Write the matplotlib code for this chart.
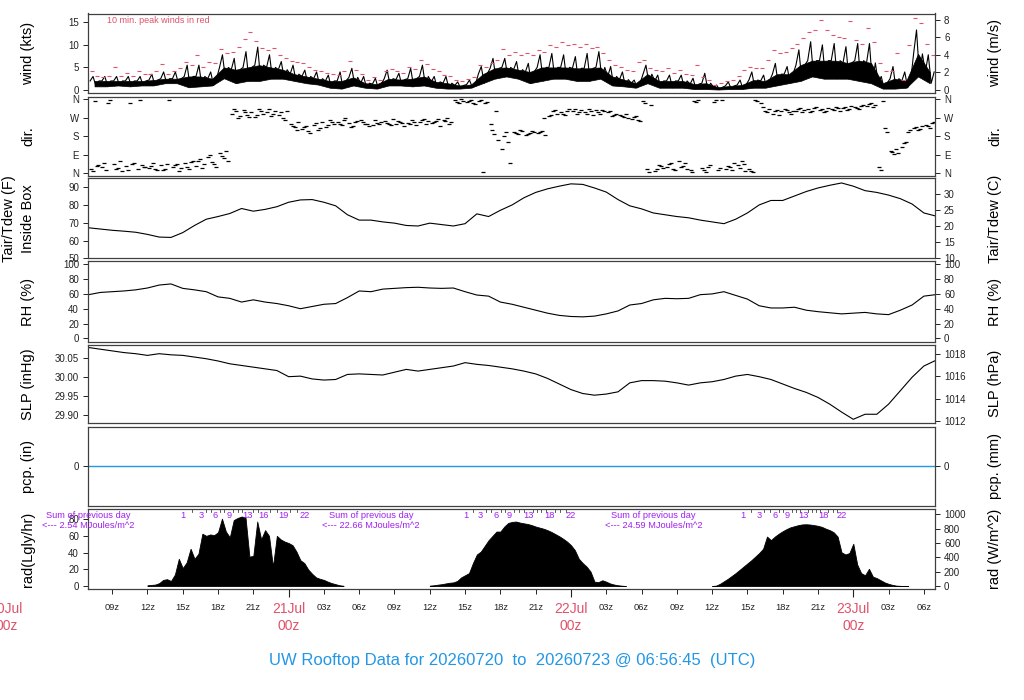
import numpy as np
import matplotlib
matplotlib.use('Agg')
import matplotlib.pyplot as plt
import matplotlib.transforms as mtransforms

plt.rcParams['font.family'] = ['Liberation Sans', 'DejaVu Sans']

# ---------------- data (hours since 2026-07-20 00z) ----------------
hours = list(range(7, 80))
temp_f = [67.2, 66.5, 65.8, 65.3, 64.7, 63.5, 62.0, 61.8, 64.5, 68.5,
          72.0, 73.5, 75.2, 78.0, 76.5, 77.5, 79.0, 81.5, 82.8, 83.0,
          81.5, 79.5, 74.5, 71.5, 71.5, 70.5, 69.8, 68.5, 68.2, 69.8,
          69.0, 68.2, 69.5, 75.0, 73.5, 77.0, 80.0, 84.0, 87.0, 89.0,
          90.5, 91.8, 91.5, 89.5, 87.2, 83.0, 79.5, 77.8, 75.5, 74.5,
          73.5, 72.8, 71.5, 70.5, 69.5, 72.0, 75.5, 80.0, 82.5, 82.5,
          85.0, 87.5, 89.5, 91.0, 92.3, 90.5, 88.0, 87.0, 85.5, 83.5,
          80.5, 75.5, 73.8]
rh_pct = [59, 62, 63, 64, 65.5, 68, 72, 73.5, 67.5, 65.5,
          63, 56, 54, 49, 52, 49, 47, 44, 40, 43,
          46, 47, 55, 64, 63, 66.5, 67.5, 68.5, 69, 68,
          67.5, 68, 63, 58.5, 57, 49, 46, 42, 38, 34,
          31, 29.5, 29, 30, 33, 37, 45, 47, 52, 54,
          53.5, 54, 59, 60, 63, 58, 53, 44, 41, 41,
          42, 38, 36, 34.5, 33, 34, 35, 33, 32, 38,
          45, 57, 59]
slp_hpa = [1018.55, 1018.4, 1018.25, 1018.1, 1018.0, 1017.85, 1018.0, 1017.9, 1017.85, 1017.7,
           1017.55, 1017.35, 1017.1, 1016.95, 1016.8, 1016.65, 1016.5, 1015.95, 1016.0, 1015.75,
           1015.65, 1015.7, 1016.15, 1016.2, 1016.15, 1016.1, 1016.35, 1016.6, 1016.45, 1016.6,
           1016.75, 1016.9, 1017.2, 1017.05, 1016.95, 1016.8, 1016.65, 1016.45, 1016.2, 1015.8,
           1015.3, 1014.8, 1014.45, 1014.3, 1014.4, 1014.6, 1015.4, 1015.6, 1015.6, 1015.55,
           1015.4, 1015.2, 1015.4, 1015.5, 1015.7, 1016.0, 1016.15, 1015.95, 1015.7, 1015.3,
           1014.9, 1014.55, 1014.1, 1013.5, 1012.8, 1012.15, 1012.6, 1012.6, 1013.5, 1014.7,
           1015.9, 1016.9, 1017.4]

wind_hours = list(range(7, 79))
wind_hi_kts = [3.0, 3.0, 3.0, 3.0, 3.0, 3.5, 4.0, 4.0, 5.5, 5.5,
               4.0, 7.8, 7.0, 8.5, 9.5, 7.8, 6.3, 5.5, 4.4, 4.0,
               3.3, 4.0, 4.8, 3.0, 2.6, 4.4, 3.7, 4.8, 5.5, 3.0,
               3.0, 1.8, 2.2, 5.2, 7.0, 7.0, 6.3, 5.9, 7.8, 8.1,
               7.8, 7.4, 8.1, 8.5, 5.2, 4.0, 2.2, 5.5, 3.3, 3.3,
               3.3, 2.6, 3.7, 1.1, 1.8, 2.2, 4.0, 3.3, 5.9, 5.2,
               8.9, 10.7, 10.0, 10.3, 9.6, 10.3, 10.3, 3.0, 5.2, 4.0,
               13.3, 7.8]
wind_mean_kts = [2.0, 2.0, 2.0, 2.0, 2.0, 2.2, 2.5, 2.5, 3.0, 3.0,
                 2.5, 5.0, 4.5, 5.0, 5.5, 5.0, 4.5, 3.5, 3.0, 2.5,
                 2.0, 2.0, 2.8, 1.5, 1.3, 2.5, 2.3, 2.5, 3.0, 1.8,
                 1.5, 1.0, 1.2, 3.5, 4.8, 5.0, 4.5, 4.0, 5.0, 5.0,
                 5.0, 4.8, 4.8, 5.0, 3.0, 2.3, 1.5, 3.5, 2.0, 2.0,
                 2.0, 1.3, 1.5, 0.6, 0.9, 1.1, 2.2, 2.0, 3.5, 3.5,
                 5.5, 6.5, 6.5, 6.5, 6.0, 6.5, 6.0, 1.5, 2.5, 2.0,
                 8.0, 4.0]
wind_lo_kts = [0.8, 0.8, 1.0, 0.8, 1.0, 1.0, 1.5, 1.5, 0.6, 0.8,
               1.0, 2.6, 1.5, 2.0, 2.0, 2.5, 2.5, 2.0, 1.5, 1.2,
               0.5, 0.3, 1.0, 0.5, 0.3, 1.0, 1.0, 0.8, 1.0, 0.5,
               0.3, 0.3, 0.5, 1.5, 2.5, 3.0, 2.5, 1.5, 2.0, 2.5,
               2.5, 2.0, 2.0, 2.5, 1.0, 0.8, 0.5, 1.5, 0.5, 0.5,
               0.5, 0.2, 0.2, 0.1, 0.2, 0.2, 0.5, 0.5, 1.0, 1.5,
               2.0, 3.0, 2.5, 2.5, 2.5, 2.0, 1.5, 0.3, 0.3, 0.5,
               3.0, 1.5]
# 10-min peak winds, two readings per hour (kts)
peak_kts = [4.3, 3.0, 2.8, 3.0, 5.0, 3.0, 3.8, 3.1, 4.1, 3.5,
            3.5, 4.3, 5.8, 3.5, 4.3, 4.8, 6.3, 5.5, 7.8, 5.2,
            6.3, 5.9, 9.0, 8.1, 8.5, 9.6, 11.2, 12.8, 10.9, 9.4,
            8.9, 9.4, 7.8, 7.0, 6.4, 6.1, 5.9, 5.2, 4.4, 4.1,
            3.8, 3.5, 3.3, 4.1, 6.4, 4.4, 3.5, 2.2, 2.8, 2.2,
            4.1, 4.6, 4.3, 3.7, 5.0, 4.6, 6.7, 5.7, 4.6, 4.1,
            3.3, 3.0, 2.2, 2.1, 2.4, 2.8, 5.5, 5.2, 5.9, 6.7,
            9.1, 7.8, 8.5, 7.8, 8.1, 7.8, 8.9, 8.5, 10.0, 9.6,
            10.7, 10.0, 10.2, 9.6, 10.3, 9.2, 9.6, 8.1, 6.7, 5.5,
            5.2, 4.4, 4.1, 6.3, 6.7, 4.8, 4.4, 4.1, 4.8, 3.7,
            4.4, 3.5, 3.3, 5.5, 2.8, 2.2, 1.1, 1.5, 2.0, 2.2,
            3.0, 4.4, 5.2, 4.8, 4.8, 6.7, 8.9, 8.1, 8.5, 9.2,
            10.3, 11.5, 12.9, 13.3, 15.5, 13.3, 12.2, 11.8, 11.5, 15.2,
            11.1, 10.3, 13.7, 10.7, 5.9, 4.1, 4.1, 8.1, 2.2, 10.0,
            15.9, 14.8, 10.3, 7.8]
# wind direction, three readings per hour (degrees)
dir_deg = [20, 350, 40, 30, 15, 355, 45, 25, 10, 35, 340, 50,
           20, 40, 30, 25, 50, 15, 40, 20, 355, 30, 45, 25,
           50, 20, 60, 35, 70, 45, 80, 55, 30, 100, 75, 60,
           290, 300, 280, 305, 285, 295, 275, 310, 290, 295, 280, 300,
           285, 270, 300, 240, 225, 250, 215, 230, 195, 235, 210, 250,
           225, 260, 240, 250, 235, 270, 245, 230, 255, 260, 240, 230,
           235, 245, 250, 255, 240, 265, 240, 250, 230, 245, 260, 235,
           250, 265, 255, 245, 255, 230, 260, 270, 250, 355, 340, 350,
           345, 355, 335, 350, 5, 345, 240, 190, 160, 120, 200, 50,
           200, 190, 205, 185, 195, 200, 195, 205, 185, 280, 300, 290,
           295, 285, 310, 300, 290, 305, 295, 310, 285, 305, 290, 300,
           295, 280, 290, 285, 275, 270, 265, 280, 255, 350, 20, 330,
           10, 40, 25, 30, 50, 15, 60, 35, 20, 15, 350, 355,
           25, 5, 40, 345, 15, 355, 20, 30, 50, 40, 60, 10,
           20, 5, 350, 340, 300, 310, 290, 305, 300, 310, 295, 300,
           300, 315, 305, 310, 300, 320, 305, 295, 315, 310, 320, 300,
           315, 305, 325, 320, 310, 330, 325, 340, 330, 30, 350, 200,
           110, 95, 100, 130, 150, 210, 220, 210, 230, 235, 220, 250]
# further direction readings, two per hour (degrees)
dir_extra_deg = [10, 35, 50, 340, 20, 60, 15, 45, 355, 30, 35, 20,
                 15, 45, 40, 10, 30, 55, 60, 25, 90, 45, 85, 110,
                 310, 270, 295, 275, 285, 300, 310, 290, 295, 260,
                 230, 210, 225, 205, 245, 220, 235, 250, 240, 260,
                 225, 250, 250, 240, 260, 240, 245, 235, 255, 245,
                 240, 250, 260, 240, 250, 265, 255, 240, 345, 360,
                 350, 340, 355, 340, 210, 300, 180, 150, 195, 210,
                 190, 205, 200, 270, 285, 305, 290, 300, 310, 295,
                 290, 300, 295, 305, 300, 285, 280, 290, 275, 260,
                 340, 5, 20, 35, 45, 20, 30, 50, 5, 345,
                 15, 30, 355, 25, 35, 15, 25, 45, 10, 355,
                 320, 295, 300, 285, 305, 290, 310, 295, 295, 315,
                 310, 300, 305, 315, 320, 310, 315, 325, 335, 320,
                 15, 220, 105, 120, 145, 200, 225, 215, 230, 245]

pcp_hours = [6.946, 78.946]
pcp_in = [0.0, 0.0]

# solar radiation (W/m^2), 20-minute readings, per day with start hour
rad_starts = [12.0, 36.0, 60.0]
rad_day1 = [10, 15, 20, 40, 85, 95, 70, 160, 380, 250, 330, 520,
            380, 450, 730, 700, 720, 710, 750, 940, 760, 680, 920, 950,
            970, 960, 410, 420, 900, 650, 780, 700, 270, 700, 650, 620,
            600, 570, 480, 360, 320, 230, 170, 120, 100, 85, 60, 40,
            25, 10, 3]
rad_day2 = [5, 10, 18, 25, 35, 45, 50, 70, 120, 150, 180, 320,
            440, 480, 560, 640, 700, 760, 760, 830, 880, 895, 900, 885,
            875, 865, 850, 830, 815, 800, 780, 755, 725, 695, 660, 620,
            570, 500, 380, 320, 270, 200, 60, 55, 80, 60, 35, 20,
            10, 4, 0]
rad_day3 = [0, 5, 30, 65, 100, 140, 180, 225, 270, 315, 360, 410,
            460, 520, 690, 640, 690, 730, 765, 795, 820, 835, 850, 860,
            862, 858, 850, 840, 825, 800, 780, 750, 690, 470, 440, 460,
            590, 300, 180, 150, 240, 130, 110, 80, 50, 30, 15, 5,
            2, 0, 0]
rad_days = [rad_day1, rad_day2, rad_day3]
rad_sums = ['2.54', '22.66', '24.59']
sum_hours = [7.0, 31.0, 55.0]

# hour-index labels along top of radiation panel
hidx_labels = [[1, 3, 6, 9, 13, 16, 19, 22],
               [1, 3, 6, 9, 13, 18, 22],
               [1, 3, 6, 9, 13, 18, 22]]
hidx_pos = [[14.97, 16.58, 17.77, 18.93, 20.46, 21.90, 23.52, 25.36],
            [39.10, 40.31, 41.65, 42.78, 44.42, 46.20, 47.99],
            [62.60, 63.96, 65.35, 66.42, 67.78, 69.48, 71.04]]

# ---------------- layout ----------------
W, H = 1024, 700
XL, XR = 88, 935
XMIN, XMAX = 6.946, 78.946
RED = '#DF536B'
BLUE = '#2297E6'
PURPLE = '#A020F0'
FRAME = '#404040'

fig = plt.figure(figsize=(W / 100, H / 100), dpi=100)


def make_ax(top, bottom):
    ax = fig.add_axes([XL / W, 1 - bottom / H, (XR - XL) / W, (bottom - top) / H])
    ax.set_xlim(XMIN, XMAX)
    ax.set_xticks([])
    for s in ax.spines.values():
        s.set_color(FRAME)
        s.set_linewidth(0.9)
    ax.tick_params(axis='y', direction='out', length=3.5, width=0.7, pad=3,
                   labelsize=7, colors='#222222', left=True, right=False)
    return ax


def style_sec(sec):
    sec.tick_params(direction='out', length=3.5, width=0.7, pad=3,
                    labelsize=7, colors='#222222')
    for s in sec.spines.values():
        s.set_visible(False)


def left_label(y_top, y_bot, text, x=28):
    fig.text(x / W, 1 - (y_top + y_bot) / 2 / H, text, rotation=90,
             ha='center', va='center', fontsize=10.5)


def right_label(y_top, y_bot, text, x=995):
    fig.text(x / W, 1 - (y_top + y_bot) / 2 / H, text, rotation=90,
             ha='center', va='center', fontsize=10.5)


# wind
P_WIND = (13.5, 93)
ax = make_ax(*P_WIND)
ax.set_ylim(-0.67, 16.95)
ax.set_yticks([0, 5, 10, 15])
wh = np.asarray(wind_hours, float)
# dense band between hourly low and typical value
ax.fill_between(wh + 0.5, wind_lo_kts, wind_mean_kts, color='black', lw=0.5)
# gust trace through typical, high and low values in each hour
xs = np.ravel(np.column_stack([wh + 0.125, wh + 0.375, wh + 0.625, wh + 0.875]))
ys = np.ravel(np.column_stack([wind_mean_kts, wind_hi_kts, wind_lo_kts, wind_mean_kts]))
ax.plot(xs, ys, color='black', lw=0.8)
px = np.ravel(np.column_stack([wh + 0.25, wh + 0.75]))
ax.plot(px, peak_kts, ls='none', marker='_', ms=3, mew=0.8, color=RED)
ax.text(0.0224, 0.915, '10 min. peak winds in red', transform=ax.transAxes,
        fontsize=6.5, color=RED, ha='left', va='center')
sec = ax.secondary_yaxis('right', functions=(lambda k: k / 1.94384, lambda m: m * 1.94384))
sec.set_yticks([0, 2, 4, 6, 8])
style_sec(sec)
left_label(*P_WIND, 'wind (kts)')
right_label(*P_WIND, 'wind (m/s)')

# direction
P_DIR = (97, 176)
ax = make_ax(*P_DIR)
ax.set_ylim(-13, 370)
ax.set_yticks([0, 90, 180, 270, 360])
ax.set_yticklabels(['N', 'E', 'S', 'W', 'N'])
dx = np.ravel(np.column_stack([wh + 1 / 6, wh + 0.5, wh + 5 / 6]))
ax.plot(dx, dir_deg, ls='none', marker='_', ms=3, mew=0.9, color='black')
dx2 = np.ravel(np.column_stack([wh + 0.33, wh + 0.67]))
ax.plot(dx2, dir_extra_deg, ls='none', marker='_', ms=3, mew=0.9, color='black')
sec = ax.secondary_yaxis('right')
sec.set_yticks([0, 90, 180, 270, 360])
sec.set_yticklabels(['N', 'E', 'S', 'W', 'N'])
style_sec(sec)
left_label(*P_DIR, 'dir.')
right_label(*P_DIR, 'dir.')

# temperature
P_T = (178.5, 258.5)
ax = make_ax(*P_T)
ax.set_ylim(50, 94.8)
ax.set_yticks([50, 60, 70, 80, 90])
ax.plot(hours, temp_f, color='black', lw=0.8)
sec = ax.secondary_yaxis('right', functions=(lambda f: (f - 32) * 5 / 9, lambda c: c * 9 / 5 + 32))
sec.set_yticks([10, 15, 20, 25, 30])
style_sec(sec)
left_label(*P_T, 'Tair/Tdew (F)', x=9)
left_label(*P_T, 'Inside Box', x=28)
right_label(*P_T, 'Tair/Tdew (C)')

# RH
P_RH = (261, 342)
ax = make_ax(*P_RH)
ax.set_ylim(-5, 104.5)
ax.set_yticks([0, 20, 40, 60, 80, 100])
ax.plot(hours, rh_pct, color='black', lw=0.8)
sec = ax.secondary_yaxis('right')
sec.set_yticks([0, 20, 40, 60, 80, 100])
style_sec(sec)
left_label(*P_RH, 'RH (%)')
right_label(*P_RH, 'RH (%)')

# SLP
P_SLP = (344.5, 423)
ax = make_ax(*P_SLP)
ax.set_ylim(1011.82, 1018.82)
ax.tick_params(axis='y', left=False, labelleft=False, right=True, labelright=True)
ax.set_yticks([1012, 1014, 1016, 1018])
ax.plot(hours, slp_hpa, color='black', lw=0.8)
sec = ax.secondary_yaxis('left', functions=(lambda p: p / 33.8639, lambda i: i * 33.8639))
sec.set_yticks([29.90, 29.95, 30.00, 30.05])
sec.yaxis.set_major_formatter(matplotlib.ticker.FormatStrFormatter('%.2f'))
style_sec(sec)
left_label(*P_SLP, 'SLP (inHg)')
right_label(*P_SLP, 'SLP (hPa)')

# precipitation
P_PCP = (426.5, 506)
ax = make_ax(*P_PCP)
ax.set_ylim(-1, 1)
ax.set_yticks([0])
ax.plot(pcp_hours, pcp_in, color=BLUE, lw=1.0)
sec = ax.secondary_yaxis('right')
sec.set_yticks([0])
style_sec(sec)
left_label(*P_PCP, 'pcp. (in)')
right_label(*P_PCP, 'pcp. (mm)')

# radiation
P_RAD = (509, 589)
ax = make_ax(*P_RAD)
ax.set_ylim(-42, 1075)
ax.tick_params(axis='y', left=False, labelleft=False, right=True, labelright=True)
ax.set_yticks([0, 200, 400, 600, 800, 1000])
for st, vals in zip(rad_starts, rad_days):
    x = st + np.arange(len(vals)) / 3.0
    ax.fill_between(x, 0, vals, color='black', lw=0.6)
sec = ax.secondary_yaxis('left', functions=(lambda w: w / 11.63, lambda l: l * 11.63))
sec.set_yticks([0, 20, 40, 60, 80])
style_sec(sec)
left_label(*P_RAD, 'rad(Lgly/hr)')
right_label(*P_RAD, 'rad (W/m^2)')

trans = mtransforms.blended_transform_factory(ax.transData, ax.transAxes)
for sh, val in zip(sum_hours, rad_sums):
    ax.text(sh, 0.925, 'Sum of previous day', transform=trans, ha='center', va='center',
            fontsize=6.7, color=PURPLE, clip_on=False)
    ax.text(sh, 0.79, '<--- ' + val + ' MJoules/m^2', transform=trans, ha='center',
            va='center', fontsize=6.7, color=PURPLE, clip_on=False)
for labs, pos in zip(hidx_labels, hidx_pos):
    for lab, p in zip(labs, pos):
        ax.text(p, 0.925, str(lab), transform=trans, ha='center', va='center',
                fontsize=6.7, color=PURPLE)
    allpos = np.interp(np.arange(1, 23), labs, pos)
    for p in allpos:
        if p not in pos:
            ax.plot([p, p], [1.0, 0.965], transform=trans, color='#444444', lw=0.6)

# x axis ticks on radiation panel
major = [h for h in range(9, 79, 3) if h % 24 != 0]
ax.set_xticks(major)
ax.set_xticklabels(['%02dz' % (h % 24) for h in major])
ax.set_xticks([24, 48, 72], minor=True)
ax.tick_params(axis='x', which='major', direction='out', length=3.8, width=0.7,
               pad=6, labelsize=6.7, colors='#222222')
ax.tick_params(axis='x', which='minor', direction='out', length=6, width=0.8, colors='#222222')

tx = mtransforms.blended_transform_factory(ax.transData, fig.transFigure)
for h, d in zip([0, 24, 48, 72], ['20Jul', '21Jul', '22Jul', '23Jul']):
    ax.text(h, 1 - 609 / H, d, transform=tx, ha='center', va='center',
            fontsize=10, color=RED, clip_on=False)
    ax.text(h, 1 - 626 / H, '00z', transform=tx, ha='center', va='center',
            fontsize=10, color=RED, clip_on=False)

fig.text(512 / W, 1 - 660 / H,
         'UW Rooftop Data for 20260720  to  20260723 @ 06:56:45  (UTC)',
         ha='center', va='center', fontsize=12, color=BLUE)

fig.savefig('out.png', dpi=100)
